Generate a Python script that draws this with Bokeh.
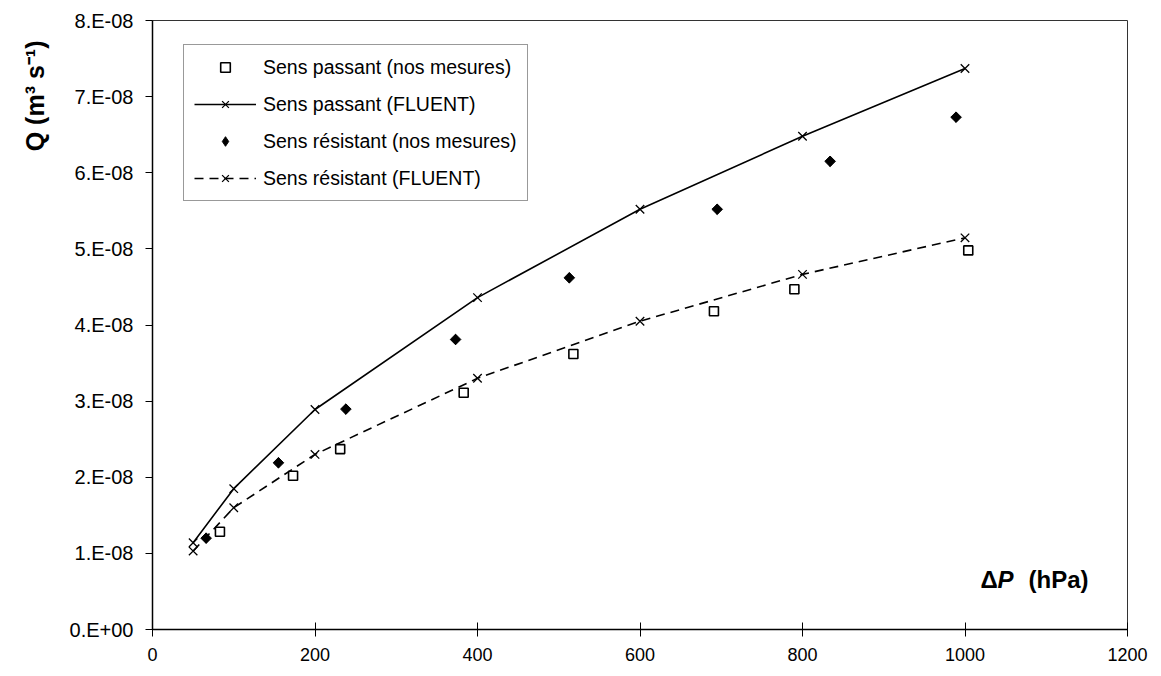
import math
from bokeh.plotting import figure
from bokeh.models import Label, FixedTicker, CustomJSTickFormatter, Range1d, Title
from bokeh.embed import file_html
from bokeh.resources import INLINE

# ---- data ----
fl_x = [50, 100, 200, 400, 600, 800, 1000]
fl_passant = [1.14e-08, 1.85e-08, 2.89e-08, 4.36e-08, 5.52e-08, 6.48e-08, 7.37e-08]
fl_resistant = [1.03e-08, 1.60e-08, 2.30e-08, 3.30e-08, 4.05e-08, 4.665e-08, 5.145e-08]

mp_x = [83, 173, 231, 383, 518, 691, 790, 1004]
mp_y = [1.285e-08, 2.02e-08, 2.37e-08, 3.11e-08, 3.62e-08, 4.18e-08, 4.47e-08, 4.98e-08]

mr_x = [66, 155, 238, 373, 513, 695, 834, 989]
mr_y = [1.20e-08, 2.19e-08, 2.895e-08, 3.81e-08, 4.62e-08, 5.52e-08, 6.15e-08, 6.73e-08]

x_ticks = [0, 200, 400, 600, 800, 1000, 1200]
y_ticks = [0, 1e-08, 2e-08, 3e-08, 4e-08, 5e-08, 6e-08, 7e-08, 8e-08]

lab_mp = "Sens passant (nos mesures)"
lab_fp = "Sens passant (FLUENT)"
lab_mr = "Sens résistant (nos mesures)"
lab_fr = "Sens résistant (FLUENT)"

FONT = "Liberation Sans"

p = figure(width=1153, height=668, output_backend="svg", toolbar_location=None,
           x_range=Range1d(0, 1200), y_range=Range1d(0, 8e-08))
p.min_border_left = 152
p.min_border_right = 26
p.min_border_top = 20
p.min_border_bottom = 39
p.xgrid.visible = False
p.ygrid.visible = False
p.outline_line_color = "#333333"
p.outline_line_width = 1
p.background_fill_color = "white"
p.border_fill_color = "white"

# squares
p.scatter(mp_x, mp_y, marker="square", size=9, fill_color="white",
          line_color="black", line_width=1.6, legend_label=lab_mp)
# solid FLUENT
p.line(fl_x, fl_passant, line_color="black", line_width=1.6, legend_label=lab_fp)
p.scatter(fl_x, fl_passant, marker="x", size=12, line_color="black",
          line_width=1.3, legend_label=lab_fp)
# diamonds (diamond glyph for the legend, rotated square drawn on top in the plot)
p.scatter(mr_x, mr_y, marker="diamond", size=10, fill_color="black",
          line_color="black", legend_label=lab_mr)
p.scatter(mr_x, mr_y, marker="square", angle=math.pi / 4, size=7.5,
          fill_color="black", line_color="black")
# dashed FLUENT
p.line(fl_x, fl_resistant, line_color="black", line_width=1.6,
       line_dash="9 6", legend_label=lab_fr)
p.scatter(fl_x, fl_resistant, marker="x", size=12, line_color="black",
          line_width=1.3, legend_label=lab_fr)

# axes
for ax in (p.xaxis[0], p.yaxis[0]):
    ax.axis_line_color = "black"
    ax.axis_line_width = 1.5
    ax.major_tick_line_color = "black"
    ax.major_tick_line_width = 1
    ax.minor_tick_line_color = None
    ax.major_label_text_color = "black"
    ax.major_label_text_font = FONT

p.xaxis.ticker = FixedTicker(ticks=x_ticks)
p.xaxis.major_tick_in = 7
p.xaxis.major_tick_out = 7
p.xaxis.major_label_text_font_size = "18px"
p.xaxis.major_label_standoff = 11

p.yaxis.ticker = FixedTicker(ticks=y_ticks)
p.yaxis.major_tick_in = 0
p.yaxis.major_tick_out = 7
p.yaxis.major_label_text_font_size = "20px"
p.yaxis.major_label_standoff = 12
p.yaxis.formatter = CustomJSTickFormatter(code="""
    if (tick == 0) { return "0.E+00"; }
    const e = Math.floor(Math.log10(Math.abs(tick)) + 1e-9);
    const m = Math.round(tick / Math.pow(10, e));
    const ae = Math.abs(e);
    return m + ".E" + (e < 0 ? "-" : "+") + (ae < 10 ? "0" + ae : "" + ae);
""")

# legend
lg = p.legend[0]
lg.location = (31, 428)
lg.border_line_color = "#333333"
lg.border_line_width = 1
lg.background_fill_alpha = 1
lg.label_text_font = FONT
lg.label_text_color = "black"
lg.label_text_font_size = "19.5px"
lg.glyph_width = 62
lg.glyph_height = 24
lg.label_height = 24
lg.label_standoff = 7
lg.spacing = 13
lg.padding = 10
lg.margin = 0

# x axis title inside the frame (frame-relative screen units)
common = dict(x_units="screen", y_units="screen", text_font=FONT,
              text_font_style="bold", text_font_size="24px", text_color="black",
              text_baseline="middle")
p.add_layout(Label(x=828, y=50, text="Δ", **common))
p.add_layout(Label(x=845, y=50, text="P", **{**common, "text_font_style": "bold italic"}))
p.add_layout(Label(x=876, y=50, text="(hPa)", **common))

# y axis title on the left, near the top
yt = Title(text="Q (m³ s⁻¹)", align="right", text_font=FONT,
           text_font_style="bold", text_font_size="25px", text_color="black",
           offset=20, standoff=36)
p.add_layout(yt, "left")

open("out.html", "w").write(file_html(p, INLINE))
